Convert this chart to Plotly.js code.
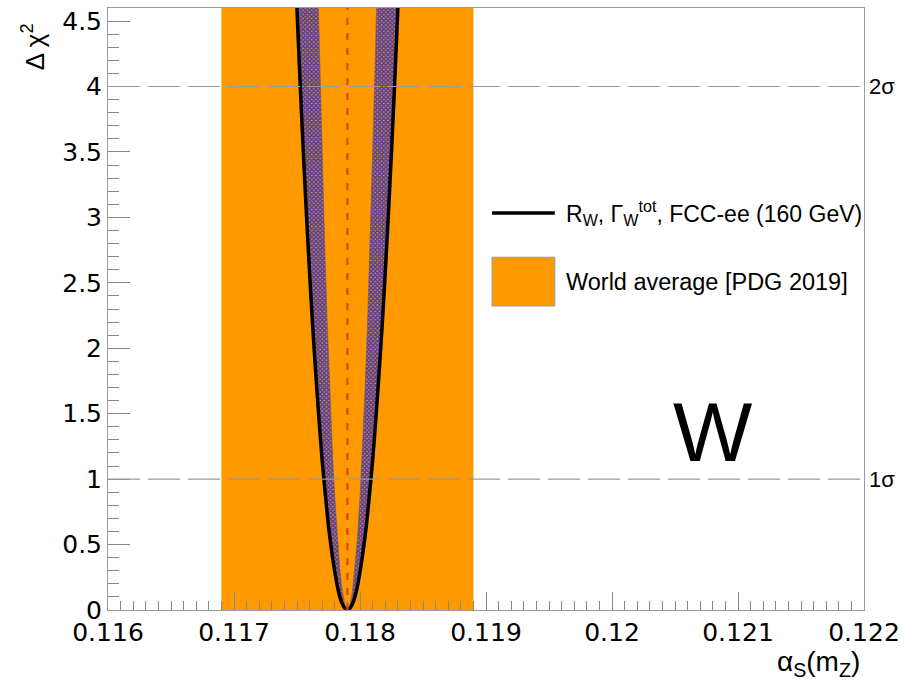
<!DOCTYPE html>
<html>
<head>
<meta charset="utf-8">
<script src="https://cdn.plot.ly/plotly-3.0.1.min.js"></script>
<style>
html,body{margin:0;padding:0;background:#fff;}
#chart{width:907px;height:686px;}
</style>
</head>
<body>
<div id="chart"></div>
<script>
// ---- data ----
// Outer (total) Δχ² curve: R_W, Γ_W^tot, FCC-ee (160 GeV)
const outerX = [0.11749, 0.117525, 0.11755, 0.117575, 0.1176, 0.117625, 0.11765, 0.117675, 0.1177, 0.117725, 0.11775, 0.117775, 0.1178, 0.117825, 0.11785, 0.117875, 0.1179, 0.117925, 0.11795, 0.117975, 0.118, 0.118025, 0.11805, 0.118075, 0.1181, 0.118125, 0.11815, 0.118175, 0.1182, 0.118225, 0.11825, 0.118275, 0.11831];
const outerY = [4.81, 4.02, 3.50, 3.02, 2.57, 2.16, 1.79, 1.45, 1.14, 0.88, 0.64, 0.45, 0.29, 0.16, 0.07, 0.02, 0, 0.02, 0.07, 0.16, 0.29, 0.45, 0.64, 0.88, 1.14, 1.45, 1.79, 2.16, 2.57, 3.02, 3.50, 4.02, 4.81];
// Inner edge of the hatched band
const innerX = [0.11766, 0.11768, 0.1177, 0.11772, 0.11774, 0.11776, 0.11778, 0.1178, 0.11782, 0.11784, 0.11786, 0.11788, 0.1179, 0.11792, 0.11794, 0.11796, 0.11798, 0.118, 0.11802, 0.11804, 0.11806, 0.11808, 0.1181, 0.11812, 0.11814];
const innerY = [4.94, 4.15, 3.43, 2.78, 2.19, 1.68, 1.23, 0.857, 0.549, 0.309, 0.137, 0.034, 0, 0.034, 0.137, 0.309, 0.549, 0.857, 1.23, 1.68, 2.19, 2.78, 3.43, 4.15, 4.94];
// Fit central value
const fitCentral = 0.1179;
// World average [PDG 2019]
const pdgCentral = 0.1179;
const pdgError = 0.0010;
// Reference Δχ² levels
const sigmaLevels = [1, 4];
const sigmaLabels = ['1σ', '2σ'];
// Axis settings
const xRange = [0.116, 0.122];
const yRange = [0, 4.6];
const seriesLabel = 'R<sub>W</sub>, Γ<sub>W</sub><sup>tot</sup>, FCC-ee (160 GeV)';
const pdgLabel = 'World average [PDG 2019]';
const bigLabel = 'W';

// ---- build traces ----
const bandX = outerX.concat(innerX.slice().reverse());
const bandY = outerY.concat(innerY.slice().reverse());

const FONT = 'Liberation Sans, Arial, Helvetica, sans-serif';
const TICKFONT = 'DejaVu Sans, Liberation Sans, sans-serif';

const traces = [
  {
    x: bandX, y: bandY, type: 'scatter', mode: 'lines',
    fill: 'toself',
    fillcolor: '#6f5590',
    fillpattern: {shape: 'x', fgcolor: '#553c98', bgcolor: '#d08a48', size: 3, solidity: 0.7},
    line: {color: 'rgba(110,90,110,0.8)', width: 0.8},
    hoverinfo: 'skip', showlegend: false
  },
  {
    x: outerX, y: outerY, type: 'scatter', mode: 'lines',
    line: {color: '#000', width: 3.5, shape: 'spline', smoothing: 0.6},
    name: seriesLabel, showlegend: false
  }
];

const shapes = [
  // PDG band
  {type: 'rect', xref: 'x', yref: 'y domain', x0: pdgCentral - pdgError, x1: pdgCentral + pdgError, y0: 0, y1: 1,
   fillcolor: '#ff9900', line: {width: 0}, layer: 'below'},
  // fit central value
  {type: 'line', xref: 'x', yref: 'y domain', x0: fitCentral, x1: fitCentral, y0: 0, y1: 1,
   line: {color: '#e0461a', width: 2.2, dash: '7px,8px'}, layer: 'above'},
  // legend line
  {type: 'line', xref: 'paper', yref: 'paper', x0: 0.508, x1: 0.591, y0: 0.6595, y1: 0.6595,
   line: {color: '#000', width: 3.5}},
  // legend box
  {type: 'rect', xref: 'paper', yref: 'paper', x0: 0.508, x1: 0.591, y0: 0.505, y1: 0.586,
   fillcolor: '#ff9900', line: {color: '#999', width: 1}}
];
sigmaLevels.forEach(v => {
  shapes.push({type: 'line', xref: 'paper', yref: 'y', x0: 0, x1: 1, y0: v, y1: v,
    line: {color: '#999', width: 1.2, dash: '32px,8px'}, layer: 'above'});
});

const annotations = [
  {text: seriesLabel, xref: 'paper', yref: 'paper', x: 0.6032, y: 0.6595, xanchor: 'left', yanchor: 'middle',
   showarrow: false, font: {family: FONT, size: 23, color: '#000'}},
  {text: pdgLabel, xref: 'paper', yref: 'paper', x: 0.6032, y: 0.545, xanchor: 'left', yanchor: 'middle',
   showarrow: false, font: {family: FONT, size: 23.5, color: '#000'}},
  {text: bigLabel, xref: 'paper', yref: 'paper', x: 0.799, y: 0.296, xanchor: 'center', yanchor: 'middle',
   showarrow: false, font: {family: FONT, size: 84, color: '#000'}},
  {text: 'Δ χ<sup>2</sup>', xref: 'paper', yref: 'paper', x: -0.099, y: 0.935, xanchor: 'center', yanchor: 'middle',
   textangle: -90, showarrow: false, font: {family: FONT, size: 26, color: '#000'}},
  {text: 'α<sub>S</sub>(m<sub>Z</sub>)', xref: 'paper', yref: 'paper', x: 0.997, y: -0.0897, xanchor: 'right', yanchor: 'middle',
   showarrow: false, font: {family: FONT, size: 28, color: '#000'}}
];
sigmaLevels.forEach((v, i) => {
  annotations.push({text: sigmaLabels[i], xref: 'paper', yref: 'y', x: 1.004, y: v, xanchor: 'left', yanchor: 'middle',
    showarrow: false, font: {family: FONT, size: 22, color: '#000'}});
});

const layout = {
  width: 907, height: 686,
  margin: {l: 108, r: 43, t: 8, b: 76},
  paper_bgcolor: '#fff', plot_bgcolor: '#fff',
  showlegend: false,
  xaxis: {
    range: xRange, dtick: 0.001, tick0: 0.116,
    ticks: 'inside', ticklen: 18, tickcolor: '#888', tickwidth: 1,
    minor: {dtick: 0.0001, ticks: 'inside', ticklen: 9, tickcolor: '#888', showgrid: false},
    showline: true, linecolor: '#999', linewidth: 1, mirror: true,
    showgrid: false, zeroline: false,
    tickfont: {family: TICKFONT, size: 25, color: '#000'}
  },
  yaxis: {
    range: yRange, dtick: 0.5, tick0: 0,
    ticks: 'inside', ticklen: 22, tickcolor: '#888', tickwidth: 1,
    minor: {dtick: 0.1, ticks: 'inside', ticklen: 11, tickcolor: '#888', showgrid: false},
    showline: true, linecolor: '#999', linewidth: 1, mirror: true,
    showgrid: false, zeroline: false,
    tickfont: {family: TICKFONT, size: 25, color: '#000'}
  },
  shapes: shapes,
  annotations: annotations
};

Plotly.newPlot('chart', traces, layout, {displayModeBar: false, staticPlot: true});
</script>
</body>
</html>
